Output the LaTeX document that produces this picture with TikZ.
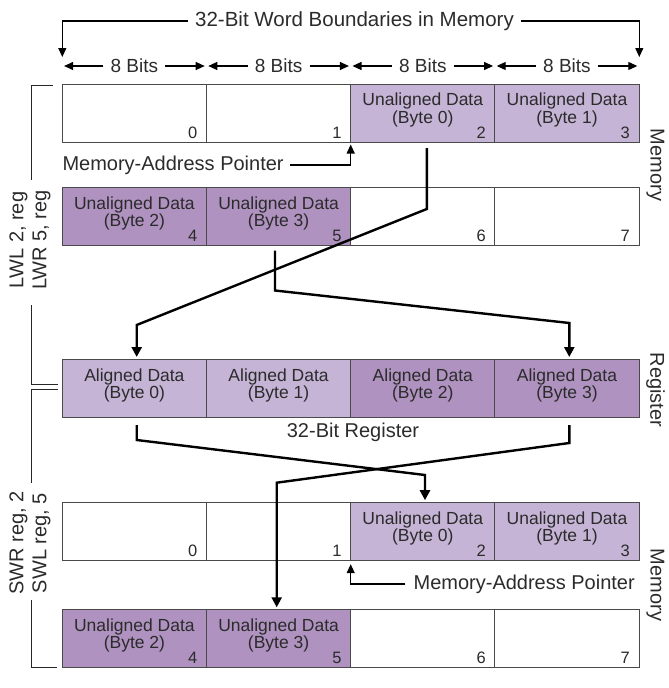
\documentclass[tikz,border=0pt]{standalone}
\usepackage{fontspec}
\setmainfont{Liberation Sans}
\usetikzlibrary{arrows.meta,calc}
\definecolor{lightp}{HTML}{C5B4D5}
\definecolor{darkp}{HTML}{AF92BF}
\definecolor{txt}{HTML}{2B2B2B}
\definecolor{cellline}{HTML}{4A4A4A}
\begin{document}
\begin{tikzpicture}[x=1pt,y=-1pt,
 cell/.style={draw=cellline,line width=0.9pt,minimum width=144.2pt,minimum height=58pt,inner sep=0pt,outer sep=0pt},
 celltext/.style={font=\fontsize{17.5}{16}\selectfont,align=center,text=txt,inner sep=0pt},
 numtext/.style={font=\fontsize{16.5}{16.5}\selectfont,text=txt,anchor=base east,inner sep=0pt},
 lbl/.style={font=\fontsize{20}{23}\selectfont,text=txt,inner sep=0pt},
 hdrlbl/.style={font=\fontsize{20.5}{23}\selectfont,text=txt,inner sep=0pt},
 bitslbl/.style={font=\fontsize{19}{19}\selectfont,text=txt,inner sep=0pt},
 thinarr/.style={line width=1.1pt,draw=black,-{Triangle[width=8pt,length=9pt]}},
 thinline/.style={line width=0.9pt,draw=black!85},
 conn/.style={line width=2.4pt,draw=black,-{Triangle[width=10pt,length=10pt]}},
]
\useasboundingbox (0,0) rectangle (669,688);

% ---------- cells ----------
% top memory
\node[cell,fill=white] (m0) at (134.4,113) {};
\node[cell,fill=white] (m1) at (278.6,113) {};
\node[cell,fill=lightp] (m2) at (422.8,113) {};
\node[cell,fill=lightp] (m3) at (567.0,113) {};
\node[cell,fill=darkp] (m4) at (134.4,216.5) {};
\node[cell,fill=darkp] (m5) at (278.6,216.5) {};
\node[cell,fill=white] (m6) at (422.8,216.5) {};
\node[cell,fill=white] (m7) at (567.0,216.5) {};
% register
\node[cell,fill=lightp] (r0) at (134.4,388) {};
\node[cell,fill=lightp] (r1) at (278.6,388) {};
\node[cell,fill=darkp] (r2) at (422.8,388) {};
\node[cell,fill=darkp] (r3) at (567.0,388) {};
% bottom memory
\node[cell,fill=white] (n0) at (134.4,531.2) {};
\node[cell,fill=white] (n1) at (278.6,531.2) {};
\node[cell,fill=lightp] (n2) at (422.8,531.2) {};
\node[cell,fill=lightp] (n3) at (567.0,531.2) {};
\node[cell,fill=darkp] (n4) at (134.4,638.3) {};
\node[cell,fill=darkp] (n5) at (278.6,638.3) {};
\node[cell,fill=white] (n6) at (422.8,638.3) {};
\node[cell,fill=white] (n7) at (567.0,638.3) {};

% ---------- cell texts ----------
\node[celltext] (tm2) at ([yshift=3pt]m2.center) {Unaligned Data\\(Byte 0)};
\node[celltext] (tm3) at ([yshift=3pt]m3.center) {Unaligned Data\\(Byte 1)};
\node[celltext] (tm4) at ([yshift=3pt]m4.center) {Unaligned Data\\(Byte 2)};
\node[celltext] (tm5) at ([yshift=3pt]m5.center) {Unaligned Data\\(Byte 3)};
\node[celltext] (tr0) at ([yshift=2.5pt]r0.center) {Aligned Data\\(Byte 0)};
\node[celltext] (tr1) at ([yshift=2.5pt]r1.center) {Aligned Data\\(Byte 1)};
\node[celltext] (tr2) at ([yshift=2.5pt]r2.center) {Aligned Data\\(Byte 2)};
\node[celltext] (tr3) at ([yshift=2.5pt]r3.center) {Aligned Data\\(Byte 3)};
\node[celltext] (tn2) at ([yshift=3pt]n2.center) {Unaligned Data\\(Byte 0)};
\node[celltext] (tn3) at ([yshift=3pt]n3.center) {Unaligned Data\\(Byte 1)};
\node[celltext] (tn4) at ([yshift=3pt]n4.center) {Unaligned Data\\(Byte 2)};
\node[celltext] (tn5) at ([yshift=3pt]n5.center) {Unaligned Data\\(Byte 3)};

\foreach \c/\k in {m0/0,m1/1,m2/2,m3/3,m4/4,m5/5,m6/6,m7/7,n0/0,n1/1,n2/2,n3/3,n4/4,n5/5,n6/6,n7/7}{
  \node[numtext] (k\c) at ([xshift=-9pt,yshift=4pt]\c.south east) {\k};
}

% ---------- header ----------
\node[hdrlbl] (hdr) at (354.5,21) {32-Bit Word Boundaries in Memory};
\coordinate (hl) at (62.3,57);
\coordinate (hr) at (639.3,57);
\draw[thinarr] ([xshift=-7pt]hdr.west) -| (hl);
\draw[thinarr] ([xshift=7pt]hdr.east) -| (hr);

\foreach \i/\cx in {0/134.4,1/278.6,2/422.8,3/567.0}{
  \node[bitslbl] (bits\i) at (\cx,66) {8 Bits};
  \coordinate (bl\i) at (\cx-70.3,66);
  \coordinate (br\i) at (\cx+70.3,66);
  \draw[thinarr] ([xshift=-7pt]bits\i.west) -- (bl\i);
  \draw[thinarr] ([xshift=7pt]bits\i.east) -- (br\i);
}

% ---------- memory-address pointers ----------
\node[lbl,anchor=west] (map1) at (62.3,165) {Memory-Address Pointer};
\draw[thinarr] ([xshift=6pt]map1.east) -| ([yshift=-2.5pt]m1.south east);
\node[lbl,anchor=east] (map2) at (635,584) {Memory-Address Pointer};
\draw[thinarr] ([xshift=-8pt]map2.west) -| ([yshift=-4pt]n1.south east);

\node[lbl] (regtxt) at (353,432) {32-Bit Register};

% ---------- side labels ----------
\node[lbl,rotate=90,align=center] (lwl) at (30,240) {LWL 2, reg\\LWR 5, reg};
\node[lbl,rotate=90,align=center] (swr) at (30,543) {SWR reg, 2\\SWL reg, 5};
\node[lbl,rotate=-90] (memA) at (655.5,165) {Memory};
\node[lbl,rotate=-90] (regA) at (655.5,390) {Register};
\node[lbl,rotate=-90] (memB) at (655.5,585) {Memory};

% brackets
\draw[thinline] (53,85) -- (31,85) -- (31,180);
\draw[thinline] (31,305) -- (31,384.3) -- (58,384.3);
\draw[thinline] (58,389.3) -- (31,389.3) -- (31,483);
\draw[thinline] (31,600) -- (31,667.3) -- (57,667.3);

% ---------- data-movement connectors ----------
\coordinate (a1) at (136.7,325);
\coordinate (b1) at (569.3,323);
\coordinate (c1) at (425,475);
\coordinate (d1) at (276.7,482.7);
\draw[conn] ([xshift=4pt,yshift=-6pt]m2.south) -- ++(0,61) -- (a1) -- ([xshift=2.3pt,yshift=2pt]r0.north);
\draw[conn] ([xshift=-3.6pt,yshift=-5pt]m5.south) -- ++(0,40) -- (b1) -- ([xshift=2.3pt,yshift=2pt]r3.north);
\draw[conn] ([xshift=2.3pt,yshift=-8pt]r0.south) -- ++(0,15) -- (c1) -- ([xshift=2.2pt,yshift=2pt]n2.north);
\draw[conn] ([xshift=2.3pt,yshift=-8pt]r3.south) -- ++(0,18) -- (d1) -- ([xshift=-1.9pt,yshift=2pt]n5.north);
\end{tikzpicture}
\end{document}
